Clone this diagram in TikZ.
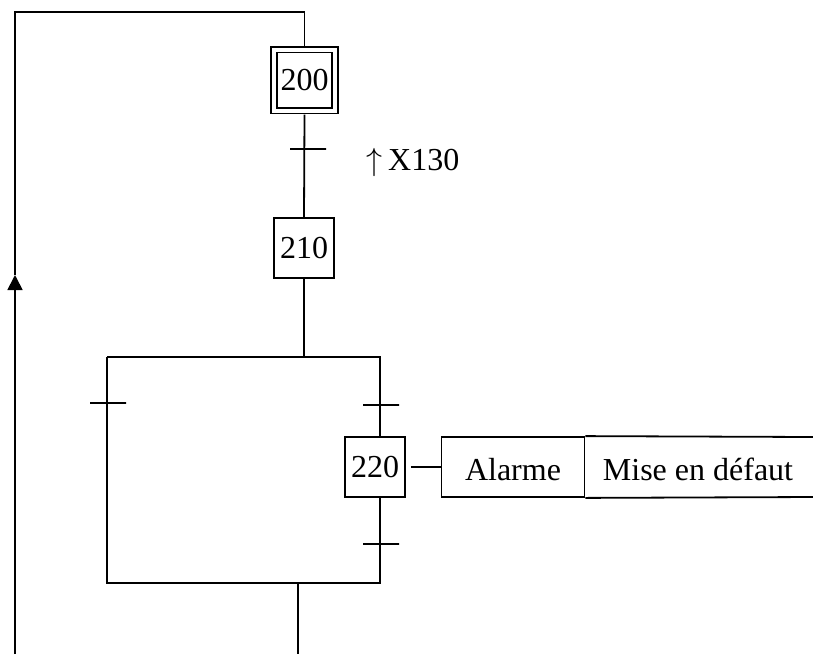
\RequirePackage{fix-cm}
\documentclass[tikz,border=0pt]{standalone}
\usepackage{fontspec}
\setmainfont{Liberation Serif}
\usetikzlibrary{arrows.meta,calc}
\begin{document}
\begin{tikzpicture}[x=1pt,y=-1pt,line width=1.8pt,
  every node/.style={font=\fontsize{32}{38}\selectfont},
  stepbox/.style={draw, minimum width=60pt, minimum height=60pt, inner sep=0pt},
  initstep/.style={draw, double, double distance=4pt, minimum width=61pt, minimum height=61pt, inner sep=0pt, outer sep=4pt},
  actbox/.style={draw, minimum width=143pt, minimum height=60pt, inner sep=0pt, text height=26pt, text depth=0pt},
  trans/.style={draw, minimum width=36pt, minimum height=0pt, inner sep=0pt, outer sep=0pt},
  loopline/.style={-{Triangle[length=15pt,width=15pt]}}]
\useasboundingbox (0,0) rectangle (813,654);

% steps
\node[initstep] (s200) at (304.5,80) {200};
\node[stepbox] (s210) at (304,248) {210};
\node[stepbox] (s220) at (375,467) {220};

% actions
\node[actbox] (act1) at (513,467) {Alarme};
\node[anchor=base, inner sep=0pt] (act2) at (698,480) {Mise en défaut};
\coordinate (a2ne) at (813,437);
\coordinate (a2se) at (813,497);
\draw (act1.north east) -- (a2ne);
\draw (act1.south east) -- (a2se);
\draw[shorten <=5pt] (s220.east) -- (act1.west);

% loop back
\coordinate (botL) at (15,654);
\coordinate (arr) at (15,275);
\coordinate (topL) at (15,12);
\coordinate (topR) at (304.5,12);
\draw[loopline] (botL) -- (arr);
\draw (arr) -- (topL) -- (topR) -- (s200.north);

% main links
\draw (s200.south) -- (s210.north);
\coordinate (dvC) at (304,357);
\coordinate (dvL) at (107,357);
\coordinate (dvR) at (380,357);
\coordinate (cvL) at (107,583);
\coordinate (cvR) at (380,583);
\coordinate (cvC) at (298,583);
\coordinate (outB) at (298,654);
\draw (s210.south) -- (dvC);
\draw (dvL) -- (dvR) -- (s220.north -| dvR);
\draw (s220.south -| cvR) -- (cvR) -- (cvL) -- (dvL);
\draw (cvC) -- (outB);

% transitions
\node[trans] (t1) at (308,149) {};
\node[trans] (t2) at (108,403) {};
\node[trans] (t3) at (381,405) {};
\node[trans] (t4) at (381,544) {};

% receptivity
\node[anchor=base west, inner sep=0pt] (r1) at (366,170) {$\uparrow$\,X130};
\end{tikzpicture}
\end{document}
